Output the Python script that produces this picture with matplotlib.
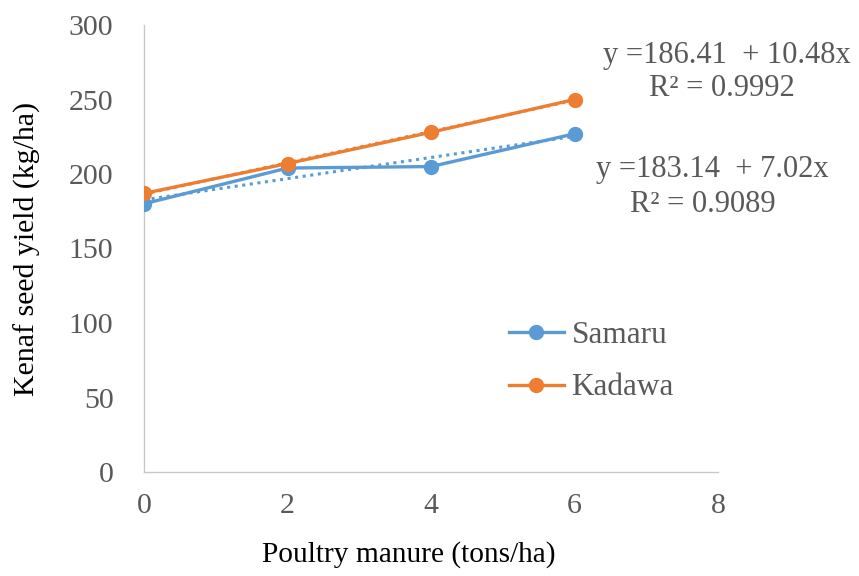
import matplotlib
matplotlib.use("Agg")
import matplotlib.pyplot as plt
import numpy as np

manure = [0, 2, 4, 6]
samaru = [180, 204, 205, 227]
kadawa = [187, 207, 228, 250]
eq_samaru = ["y =183.14  + 7.02x", "R² = 0.9089"]
eq_kadawa = ["y =186.41  + 10.48x", "R² = 0.9992"]
xticks = [0, 2, 4, 6, 8]
yticks = [0, 50, 100, 150, 200, 250, 300]

blue = "#5B9BD5"
orange = "#ED7D31"
gray = "#595959"

plt.rcParams['font.family'] = ['Liberation Serif', 'DejaVu Serif']

fig = plt.figure(figsize=(8.59, 5.76), dpi=100)
W, H = 859, 576
L, R, T, B = 144, 718, 25, 472
ax = fig.add_axes([L/W, 1 - B/H, (R-L)/W, (B-T)/H])

x = np.array(manure, dtype=float)
for y, c, lab in [(samaru, blue, "Samaru"), (kadawa, orange, "Kadawa")]:
    ax.plot(manure, y, color=c, lw=2.4, marker='o', ms=10, label=lab, zorder=3)
    p = np.polyfit(x, np.array(y, dtype=float), 1)
    xs = np.array([0, 6])
    ax.plot(xs, np.polyval(p, xs), color=c, lw=2.2, ls=(0, (1, 1.5)), zorder=2)

ax.set_xlim(0, 8)
ax.set_ylim(0, 300)
ax.set_xticks(xticks)
ax.set_yticks(yticks)
ax.tick_params(length=0, labelsize=21.5, colors=gray)
ax.tick_params(axis='y', pad=22)
ax.tick_params(axis='x', pad=15)
for s in ['top', 'right']:
    ax.spines[s].set_visible(False)
for s in ['left', 'bottom']:
    ax.spines[s].set_color("#C8C8C8")
    ax.spines[s].set_linewidth(1.0)

ax.set_xlabel("Poultry manure (tons/ha)", fontsize=21.2, color='black', va='center')
ax.set_ylabel("Kenaf seed yield (kg/ha)", fontsize=21.5, color='black', va='center')
ax.xaxis.set_label_coords((409-L)/(R-L), (B-555)/(B-T))
ax.yaxis.set_label_coords((27-L)/(R-L), 0.5)

fs_eq = 22
fig.text(727/W, 1 - 55/H, eq_kadawa[0], fontsize=fs_eq, color=gray, ha='center', va='center')
fig.text(722/W, 1 - 88/H, eq_kadawa[1], fontsize=fs_eq, color=gray, ha='center', va='center')
fig.text(712/W, 1 - 170/H, eq_samaru[0], fontsize=fs_eq, color=gray, ha='center', va='center')
fig.text(703/W, 1 - 204/H, eq_samaru[1], fontsize=fs_eq, color=gray, ha='center', va='center')

leg = ax.legend(loc='upper left', bbox_to_anchor=((484-L)/(R-L), (B-296)/(B-T)), frameon=False,
                fontsize=22.5, handlelength=1.75, labelspacing=0.75, handletextpad=0.25,
                borderpad=0.3)
for t in leg.get_texts():
    t.set_color(gray)

fig.savefig("out.png", dpi=100)
